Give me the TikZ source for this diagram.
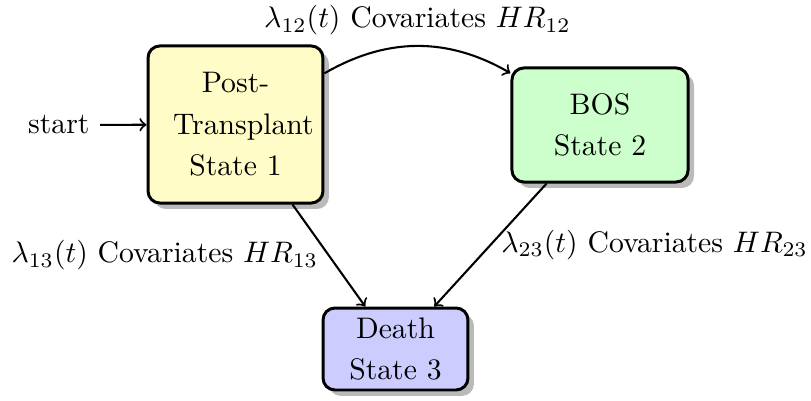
\documentclass[tikz,border=0pt]{standalone}
\usetikzlibrary{shadows,arrows}
\begin{document}
\begin{tikzpicture}[x=0.3367pt,y=-0.3367pt,
  statebox/.style={draw=black, line width=1pt, rounded corners=4pt, align=center,
    font=\fontsize{10}{14}\selectfont, inner sep=0pt,
    drop shadow={shadow xshift=2pt, shadow yshift=-2pt, fill=black!60, opacity=0.45}},
  conn/.style={->, line width=0.7pt},
  lbl/.style={font=\fontsize{10}{12}\selectfont}]
\useasboundingbox (0,0) rectangle (811,401);
\node[statebox, fill=yellow!22, minimum width=58.9pt, minimum height=52.9pt, text width=42pt]
  (b1) at (235.5,124.5) {Post-\\Transplant\\State 1};
\node[statebox, fill=green!20, minimum width=59.3pt, minimum height=38.4pt]
  (b2) at (600,125) {BOS\\State 2};
\node[statebox, fill=blue!20, minimum width=48.8pt, minimum height=27.6pt]
  (b3) at (395.5,349) {Death\\State 3};
\node[lbl, anchor=east] (st) at (100,125) {start};
\draw[conn] (st) -- (b1);
\draw[conn] (b1) to[bend left=30] node[lbl, above] (l12) {$\lambda_{12}(t)$ Covariates $HR_{12}$} (b2);
\draw[conn] (b1) -- node[lbl, left] (l13) {$\lambda_{13}(t)$ Covariates $HR_{13}$} (b3);
\draw[conn] (b2) -- node[lbl, right] (l23) {$\lambda_{23}(t)$ Covariates $HR_{23}$} (b3);
\end{tikzpicture}
\end{document}
